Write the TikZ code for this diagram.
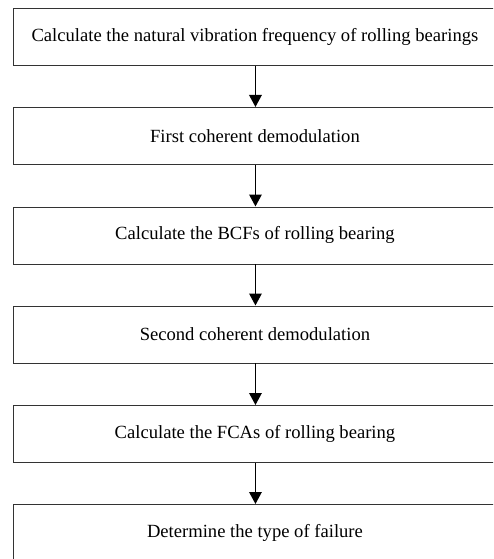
\documentclass[tikz,border=0pt]{standalone}
\usepackage{fontspec}
\setmainfont{Liberation Serif}
\usetikzlibrary{arrows.meta}
\begin{document}
\begin{tikzpicture}[x=1pt,y=-1pt,
  stepbox/.style={draw=black!80, line width=0.9pt, minimum width=483pt,
    minimum height=57pt, inner sep=0pt, anchor=north west, font=\fontsize{18.6}{21}\selectfont},
  flow/.style={line width=1.6pt, -{Triangle[length=12pt,width=12.5pt]}}]
\useasboundingbox (0,0) rectangle (493,559);
\clip (0,0) rectangle (493,559);
\fill[white] (0,0) rectangle (493,559);
\node[stepbox] (s1) at (13,8)   {Calculate the natural vibration frequency of rolling bearings};
\node[stepbox] (s2) at (13,107) {First coherent demodulation};
\node[stepbox] (s3) at (13,206.5) {Calculate the BCFs of rolling bearing};
\node[stepbox] (s4) at (13,305.5) {Second coherent demodulation};
\node[stepbox] (s5) at (13,405) {Calculate the FCAs of rolling bearing};
\node[stepbox] (s6) at (13,504) {Determine the type of failure};
\foreach \a/\b in {s1/s2,s2/s3,s3/s4,s4/s5,s5/s6}
  \draw[flow] ([xshift=0.5pt]\a.south) -- ([xshift=0.5pt]\b.north);
\end{tikzpicture}
\end{document}
